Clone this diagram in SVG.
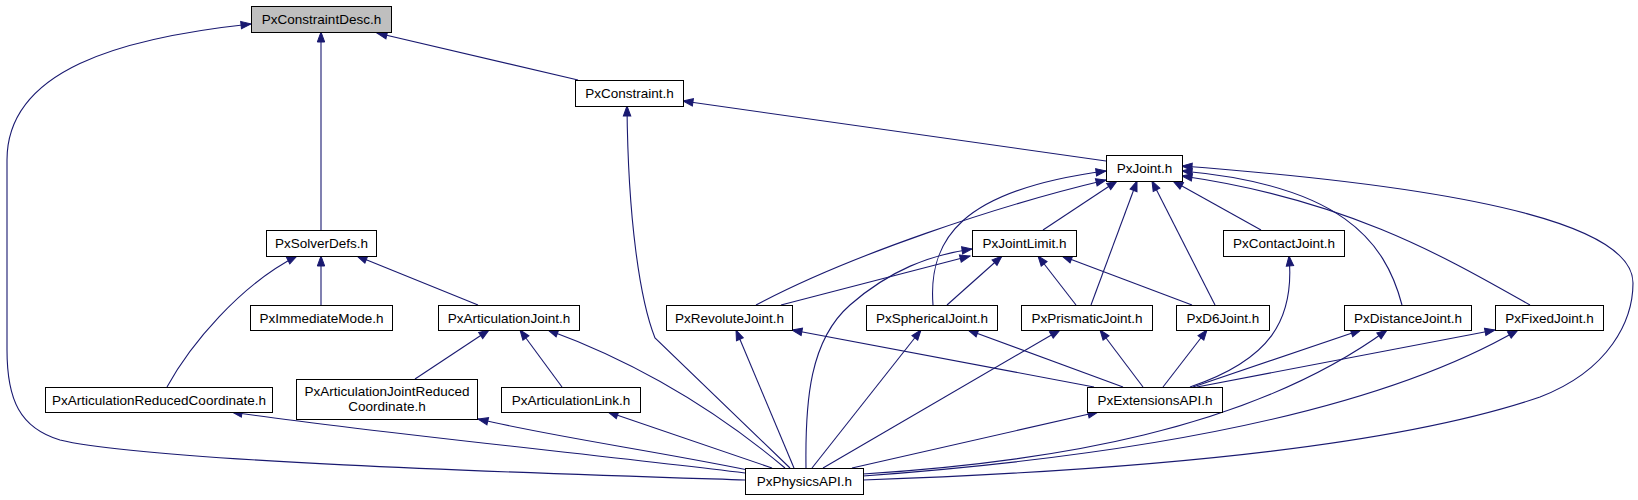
<svg xmlns="http://www.w3.org/2000/svg" width="1638" height="500" viewBox="0 0 1638 500">
<defs>
<style>
.n rect{fill:#fff;stroke:#000;stroke-width:1}
.n.root rect{fill:#bfbfbf}
.n text{font-family:"Liberation Sans",Arial,sans-serif;font-size:13.5px;fill:#000;text-anchor:middle}
.e path{fill:none;stroke:#191970;stroke-width:1.1;marker-end:url(#ah)}
</style>
<marker id="ah" markerUnits="userSpaceOnUse" markerWidth="11" markerHeight="9" refX="10" refY="4" orient="auto" overflow="visible">
<path d="M0,0.3 L10,4 L0,7.7 z" fill="#191970" stroke="#191970" stroke-width="1"/>
</marker>
</defs>
<rect width="1638" height="500" fill="#fff"/>
<g class="e" id="edges">
<path d="M745,480 C560,474 150,462 60,440 C20,428 7,400 7,350 L7,160 C7,70 120,38 251,24"/>
<path d="M321,230 L321,32"/>
<path d="M578,80 L377,33"/>
<path d="M1106,161 L683,101"/>
<path d="M790,468 L655,338 C640,300 628,220 627,106"/>
<path d="M167,387 C190,345 240,285 297,256"/>
<path d="M321,305 L321,256"/>
<path d="M478,305 L357,256"/>
<path d="M415,379 L489,330"/>
<path d="M562,387 L520,330"/>
<path d="M785,468 C710,405 630,360 548,330"/>
<path d="M745,473 C600,455 350,430 232,412"/>
<path d="M748,470 C650,450 560,438 478,419"/>
<path d="M772,468 L608,412"/>
<path d="M1043,230 L1117,181"/>
<path d="M756,305 C850,255 1000,205 1106,180"/>
<path d="M933,305 C928,240 960,190 1106,171"/>
<path d="M1091,305 L1137,181"/>
<path d="M1215,305 L1152,181"/>
<path d="M1261,230 L1173,181"/>
<path d="M1402,305 C1385,240 1340,185 1182,171"/>
<path d="M1530,305 C1450,260 1350,200 1182,176"/>
<path d="M863,480 C1150,470 1400,445 1540,397 C1610,370 1633,320 1633,283 C1633,230 1500,190 1182,166"/>
<path d="M781,305 L970,256"/>
<path d="M947,305 L1002,256"/>
<path d="M1076,305 L1038,256"/>
<path d="M1192,305 L1062,256"/>
<path d="M806,468 C805,400 810,340 850,305 C890,270 930,255 972,249"/>
<path d="M794,468 L736,330"/>
<path d="M1094,387 L792,330"/>
<path d="M812,468 L921,330"/>
<path d="M1123,387 L968,330"/>
<path d="M823,468 L1060,330"/>
<path d="M1143,387 L1100,330"/>
<path d="M1163,387 L1207,330"/>
<path d="M1190,387 C1270,360 1295,320 1289,256"/>
<path d="M1193,387 L1361,330"/>
<path d="M863,474 C1050,462 1250,430 1387,330"/>
<path d="M1197,387 L1495,330"/>
<path d="M863,476 C1150,455 1380,410 1518,330"/>
<path d="M852,468 L1098,412"/>
</g>
<g class="n root" id="n-desc"><rect x="251.5" y="6.5" width="140" height="26"/><text x="321.5" y="24">PxConstraintDesc.h</text></g>
<g class="n" id="n-con"><rect x="575.5" y="80.5" width="108" height="26"/><text x="629.5" y="98">PxConstraint.h</text></g>
<g class="n" id="n-joint"><rect x="1106.5" y="155.5" width="76" height="26"/><text x="1144.5" y="173">PxJoint.h</text></g>
<g class="n" id="n-solver"><rect x="266.5" y="230.5" width="110" height="26"/><text x="321.5" y="248">PxSolverDefs.h</text></g>
<g class="n" id="n-jlimit"><rect x="972.5" y="230.5" width="104" height="26"/><text x="1024.5" y="248">PxJointLimit.h</text></g>
<g class="n" id="n-contact"><rect x="1223.5" y="230.5" width="121" height="26"/><text x="1284" y="248">PxContactJoint.h</text></g>
<g class="n" id="n-imm"><rect x="250.5" y="305.5" width="142" height="25"/><text x="321.5" y="322.5">PxImmediateMode.h</text></g>
<g class="n" id="n-artj"><rect x="438.5" y="305.5" width="141" height="25"/><text x="509" y="322.5">PxArticulationJoint.h</text></g>
<g class="n" id="n-rev"><rect x="666.5" y="305.5" width="126" height="25"/><text x="729.5" y="322.5">PxRevoluteJoint.h</text></g>
<g class="n" id="n-sph"><rect x="866.5" y="305.5" width="131" height="25"/><text x="932" y="322.5">PxSphericalJoint.h</text></g>
<g class="n" id="n-pri"><rect x="1021.5" y="305.5" width="131" height="25"/><text x="1087" y="322.5">PxPrismaticJoint.h</text></g>
<g class="n" id="n-d6"><rect x="1176.5" y="305.5" width="93" height="25"/><text x="1223" y="322.5">PxD6Joint.h</text></g>
<g class="n" id="n-dist"><rect x="1344.5" y="305.5" width="127" height="25"/><text x="1408" y="322.5">PxDistanceJoint.h</text></g>
<g class="n" id="n-fixed"><rect x="1495.5" y="305.5" width="108" height="25"/><text x="1549.5" y="322.5">PxFixedJoint.h</text></g>
<g class="n" id="n-artrc"><rect x="45.5" y="387.5" width="227" height="25"/><text x="159" y="404.5">PxArticulationReducedCoordinate.h</text></g>
<g class="n" id="n-artjrc"><rect x="296.5" y="379.5" width="181" height="40"/><text x="387" y="396">PxArticulationJointReduced</text><text x="387" y="410.5">Coordinate.h</text></g>
<g class="n" id="n-artlink"><rect x="501.5" y="387.5" width="139" height="25"/><text x="571" y="404.5">PxArticulationLink.h</text></g>
<g class="n" id="n-ext"><rect x="1087.5" y="387.5" width="135" height="25"/><text x="1155" y="404.5">PxExtensionsAPI.h</text></g>
<g class="n" id="n-phys"><rect x="745.5" y="468.5" width="118" height="26"/><text x="804.5" y="486">PxPhysicsAPI.h</text></g>
</svg>
